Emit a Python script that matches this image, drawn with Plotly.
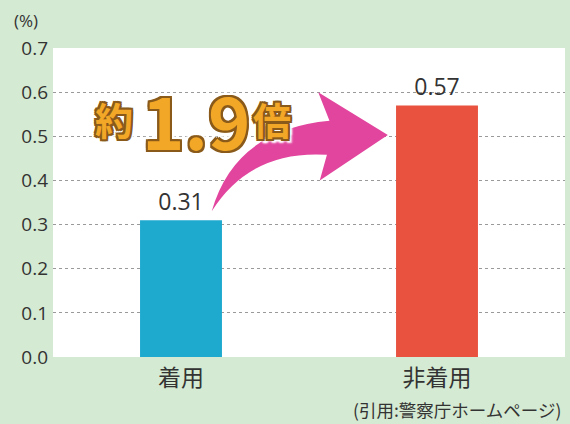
import plotly.graph_objects as go

categories = ["着用", "非着用"]
values = [0.31, 0.57]
bar_colors = ["#1EA9CF", "#E8523F"]
y_ticks = [0.0, 0.1, 0.2, 0.3, 0.4, 0.5, 0.6, 0.7]
y_tick_labels = ["0.0", "0.1", "0.2", "0.3", "0.4", "0.5", "0.6", "0.7"]

fig = go.Figure()
fig.add_trace(go.Bar(
    x=categories, y=values,
    marker=dict(color=bar_colors, line=dict(width=0)),
    width=0.32,
    text=[f"{v:.2f}" for v in values],
    textposition="outside",
    textfont=dict(family="Open Sans, Noto Sans", size=23, color="#333333"),
    cliponaxis=False,
))

# curved pink arrow (x in paper units, y in data units)
arrow_path = ("M 0.31,0.33 Q 0.355,0.515 0.54,0.535 "
              "L 0.518,0.600 L 0.654,0.503 L 0.521,0.400 L 0.535,0.458 "
              "Q 0.385,0.469 0.31,0.33 Z")
fig.add_shape(type="path", xref="paper", yref="y", path=arrow_path,
              fillcolor="#E2459E", line=dict(width=0), layer="above")

outline = ("-2px -2px 0 #8a5a1a, 2px -2px 0 #8a5a1a, -2px 2px 0 #8a5a1a, 2px 2px 0 #8a5a1a, "
           "0 -2px 0 #8a5a1a, 0 2px 0 #8a5a1a, -2px 0 0 #8a5a1a, 2px 0 0 #8a5a1a, "
           "4px 4px 2px #ffffff, -4px -4px 2px #ffffff, 4px -4px 2px #ffffff, -4px 4px 2px #ffffff")
badge = [("約", 0.119, 38), ("1.9", 0.279, 72), ("倍", 0.428, 38)]
for txt, xp, sz in badge:
    fig.add_annotation(
        xref="paper", yref="y", x=xp, y=0.541, xanchor="center", yanchor="middle",
        text=txt, showarrow=False,
        font=dict(family="Noto Sans CJK JP, Noto Sans", size=sz, color="#F2A726",
                  weight="bold", shadow=outline),
    )

fig.add_annotation(xref="paper", yref="paper", x=-0.08, y=1.045, xanchor="left", yanchor="bottom",
                   text="(%)", showarrow=False,
                   font=dict(family="Open Sans, Noto Sans", size=17, color="#333333"))
fig.add_annotation(xref="paper", yref="paper", x=0.996, y=-0.17, xanchor="right", yanchor="middle",
                   text="(引用:警察庁ホームページ)", showarrow=False,
                   font=dict(family="Noto Sans CJK JP", size=17.5, color="#333333"))

fig.update_layout(
    width=570, height=424,
    margin=dict(l=53, r=5, t=48, b=67),
    paper_bgcolor="#D5EAD2",
    plot_bgcolor="#FFFFFF",
    showlegend=False,
    xaxis=dict(showgrid=False, showline=False, zeroline=False, ticks="",
               ticklabelstandoff=5,
               tickfont=dict(family="Noto Sans CJK JP", size=23, color="#333333")),
    yaxis=dict(range=[0, 0.7], tickvals=y_ticks, ticktext=y_tick_labels,
               showgrid=True, gridcolor="#9a9a9a", griddash="dot", gridwidth=1,
               zeroline=False, showline=False, ticks="", ticklabelstandoff=4,
               tickfont=dict(family="Open Sans, Noto Sans", size=19, color="#333333")),
)

fig.write_html("out.html", config={"displayModeBar": False},
               post_script="document.body.style.margin='0';")
